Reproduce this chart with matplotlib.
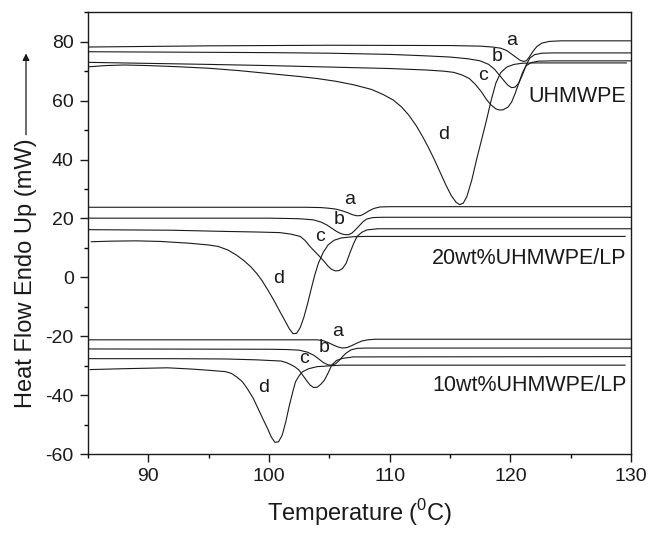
"""DSC heating curves of UHMWPE and UHMWPE/LP blends (curves a-d per group)."""

import matplotlib

matplotlib.use("Agg")
import matplotlib.pyplot as plt
from matplotlib.patches import FancyArrowPatch
from matplotlib.ticker import MultipleLocator

plt.rcParams["font.family"] = ["Liberation Sans", "DejaVu Sans"]
plt.rcParams["mathtext.fontset"] = "custom"
plt.rcParams["mathtext.rm"] = "Liberation Sans"
plt.rcParams["axes.unicode_minus"] = False

# ---- data (temperature in degC, heat flow in mW) ----
# UHMWPE
uh_a_t = [85, 95, 105, 115, 117.5, 118.5, 119.2, 119.7, 120.1, 120.5, 120.8, 121.1, 121.35, 121.6,
          121.9, 122.2, 122.6, 123.2, 124.2, 130]
uh_a_v = [78.2, 78.6, 78.8, 78.7, 78.5, 78.2, 77.8, 77.0, 75.8, 74.6, 73.7, 73.3, 73.6, 75.0,
          76.9, 78.4, 79.5, 80.1, 80.3, 80.3]
uh_b_t = [85, 95, 100, 105, 110, 113, 115, 116.5, 117.5, 118.2, 118.7, 119.1, 119.5, 119.8, 120.1,
          120.4, 120.7, 121.0, 121.3, 121.6, 122.0, 122.6, 123.5, 130]
uh_b_v = [76.6, 76.4, 76.3, 76.1, 75.7, 75.2, 74.8, 74.2, 73.5, 72.3, 70.6, 68.6, 66.6, 65.2, 64.4,
          64.6, 66.0, 68.8, 72.0, 74.4, 75.6, 76.1, 76.2, 76.2]
uh_c_t = [85, 95, 100, 105, 110, 113, 114.5, 115.3, 116.0, 116.6, 117.1, 117.6, 118.0, 118.4, 118.8,
          119.1, 119.4, 119.8, 120.1, 120.4, 120.7, 121.0, 121.3, 121.7, 122.3, 123.5, 130]
uh_c_v = [73.0, 72.3, 71.9, 71.4, 70.9, 70.4, 70.0, 69.6, 68.7, 67.5, 65.5, 63.0, 60.5, 58.5, 57.2,
          56.8, 56.9, 57.8, 59.5, 62.5, 66.0, 69.5, 71.8, 72.9, 73.4, 73.5, 73.5]
uh_d_t = [85.1, 86.5, 88, 90, 92.5, 95, 97.5, 100, 102.5, 104, 105.5, 107, 108.5, 109.5, 110.3,
          111.0, 111.6, 112.2, 112.7, 113.2, 113.7, 114.2, 114.7, 115.1, 115.5, 115.8, 116.1, 116.4,
          116.8, 117.2, 117.6, 118.0, 118.4, 118.8, 119.2, 119.7, 120.3, 121.0, 122, 129.6]
uh_d_v = [71.5, 71.9, 72.1, 71.9, 71.5, 71.0, 70.2, 69.2, 68.2, 67.5, 66.6, 65.4, 63.8, 62.0, 60.2,
          57.8, 55.0, 51.5, 48.0, 44.2, 40.0, 35.5, 31.0, 27.8, 25.5, 24.7, 25.2, 27.5,
          33.0, 40.0, 46.5, 53.0, 60.0, 66.0, 69.5, 71.4, 72.3, 72.7, 72.8, 72.8]

# 20wt% UHMWPE/LP
w20_a_t = [85, 103, 104.3, 104.9, 105.5, 106.0, 106.5, 106.9, 107.3, 107.6, 107.9, 108.3, 108.7,
           109.2, 110, 130]
w20_a_v = [23.8, 23.8, 23.7, 23.5, 23.2, 22.7, 22.0, 21.3, 20.9, 21.0, 21.6, 22.6, 23.4,
           23.9, 24.0, 24.0]
w20_b_t = [85, 100, 101.5, 102.5, 103.2, 103.7, 104.3, 104.8, 105.2, 105.6, 106.0, 106.3, 106.6,
           106.9, 107.2, 107.5, 107.8, 108.1, 108.6, 109.4, 130]
w20_b_v = [20.1, 20.1, 20.0, 19.9, 19.7, 19.5, 18.8, 17.8, 16.7, 15.6, 14.8, 14.5, 14.5,
           15.1, 16.3, 17.6, 18.9, 19.8, 20.3, 20.4, 20.4]
w20_c_t = [85, 92, 96.4, 99, 100.9, 101.8, 102.6, 103.0, 103.4, 103.8, 104.2, 104.6, 104.9, 105.2,
           105.5, 105.8, 106.1, 106.4, 106.7, 107.0, 107.3, 107.7, 108.1, 109, 130]
w20_c_v = [16.2, 16.0, 15.6, 15.4, 15.2, 14.7, 13.9, 12.5, 10.5, 8.8, 7.1, 5.3, 3.8, 2.7,
           2.2, 2.3, 3.0, 4.8, 8.2, 11.3, 13.9, 15.3, 16.1, 16.5, 16.5]
w20_d_t = [85.3, 87, 89, 91, 93.4, 95, 95.8, 96.6, 97.3, 97.9, 98.5, 99.0, 99.4, 99.9, 100.4,
           100.9, 101.3, 101.7, 102.0, 102.3, 102.6, 102.9, 103.2, 103.5, 103.8, 104.1, 104.5,
           104.9, 105.4, 106, 107, 108, 129.5]
w20_d_v = [12.1, 12.3, 12.4, 12.2, 11.6, 11.0, 10.5, 9.3, 7.6, 5.8, 3.6, 1.3, -0.9, -4.2, -7.7,
           -11.5, -14.5, -17.5, -19.1, -19.0, -17.0, -13.5, -9.0, -4.0, 0.8, 4.8, 8.5,
           11.0, 12.6, 13.4, 13.8, 13.9, 13.9]

# 10wt% UHMWPE/LP
w10_a_t = [85, 104, 104.5, 104.9, 105.3, 105.7, 106.1, 106.5, 106.9, 107.3, 107.7, 108.2, 108.8, 130]
w10_a_v = [-21.2, -21.2, -21.5, -22.1, -22.9, -23.6, -24.0, -23.8, -23.1, -22.3, -21.6, -21.2,
           -21.0, -21.0]
w10_b_t = [85, 100, 101.5, 102.5, 103.2, 103.7, 104.1, 104.5, 104.9, 105.2, 105.5, 105.8, 106.1,
           106.4, 106.8, 107.3, 108, 130]
w10_b_v = [-24.3, -24.4, -24.5, -24.7, -25.4, -26.4, -27.6, -28.9, -29.7, -29.8, -29.4, -28.3,
           -26.9, -25.7, -24.6, -24.1, -24.0, -24.0]
w10_c_t = [85, 92, 96.4, 99, 101, 101.5, 101.9, 102.2, 102.5, 102.8, 103.1, 103.4, 103.7, 104.0,
           104.3, 104.6, 104.9, 105.2, 105.6, 106.1, 107, 130]
w10_c_v = [-27.6, -27.6, -27.7, -28.0, -28.4, -29.0, -29.8, -30.5, -31.5, -33.2, -34.9, -36.5,
           -37.4, -37.3, -36.3, -34.9, -32.5, -29.8, -28.2, -27.5, -27.0, -26.9]
w10_d_t = [85.2, 88, 91.6, 93.5, 94.9, 96.4, 96.9, 97.3, 97.8, 98.2, 98.7, 99.1, 99.5, 99.9, 100.2,
           100.5, 100.8, 101.1, 101.4, 101.7, 102.0, 102.2, 102.5, 102.8, 103.3, 104.0, 106, 129.5]
w10_d_v = [-31.3, -31.0, -30.7, -31.1, -31.5, -32.0, -32.6, -33.7, -35.4, -37.7, -41.0, -44.5,
           -48.0, -51.4, -54.2, -56.0, -55.8, -53.6, -49.0, -43.4, -38.5, -35.5, -33.4, -32.0,
           -31.0, -30.3, -29.8, -29.8]

curve_letters = ["a", "b", "c", "d"]
group_names = ["UHMWPE", "20wt%UHMWPE/LP", "10wt%UHMWPE/LP"]

groups = [
    [(uh_a_t, uh_a_v), (uh_b_t, uh_b_v), (uh_c_t, uh_c_v), (uh_d_t, uh_d_v)],
    [(w20_a_t, w20_a_v), (w20_b_t, w20_b_v), (w20_c_t, w20_c_v), (w20_d_t, w20_d_v)],
    [(w10_a_t, w10_a_v), (w10_b_t, w10_b_v), (w10_c_t, w10_c_v), (w10_d_t, w10_d_v)],
]

# where the small a-d letters and group names sit (data coords)
letter_pos = [
    [(120.1, 80.5), (118.9, 75.0), (117.7, 68.5), (114.5, 48.4)],
    [(106.7, 26.4), (105.8, 19.5), (104.2, 13.9), (100.8, -0.3)],
    [(105.7, -18.5), (104.6, -23.8), (102.9, -27.5), (99.6, -37.5)],
]
group_pos = [(129.6, 61.5), (129.6, 6.3), (129.6, -36.6)]

INK = "#1a1a1a"


def main():
    fig = plt.figure(figsize=(6.5, 5.33), dpi=100)
    ax = fig.add_axes([0.135, 0.148, 0.836, 0.829])

    for curves, letters_xy, name, gxy in zip(groups, letter_pos, group_names, group_pos):
        for (t, v) in curves:
            ax.plot(t, v, color=INK, lw=0.8)
        for letter, (x, y) in zip(curve_letters, letters_xy):
            ax.text(x, y, letter, fontsize=14, ha="center", va="center", color=INK)
        ax.text(gxy[0], gxy[1], name, fontsize=15.5, ha="right", va="center", color=INK)

    ax.set_xlim(85, 130)
    ax.set_ylim(-60, 90)
    ax.xaxis.set_major_locator(MultipleLocator(10))
    ax.xaxis.set_minor_locator(MultipleLocator(5))
    ax.yaxis.set_major_locator(MultipleLocator(20))
    ax.yaxis.set_minor_locator(MultipleLocator(10))
    ax.tick_params(which="major", direction="out", length=5.5, width=1.0, labelsize=14,
                   pad=4.5, colors=INK)
    ax.tick_params(which="minor", direction="out", length=3, width=1.0)
    for sp in ax.spines.values():
        sp.set_linewidth(1.0)
        sp.set_color(INK)

    ax.set_xlabel(r"Temperature ($^{0}$C)", fontsize=17, labelpad=9, color=INK)

    # y label with the up arrow continuing from the end of the text
    fig.text(0.040, 0.488, "Heat Flow Endo Up (mW)", rotation=90, fontsize=17,
             ha="center", va="center", color=INK)
    fig.add_artist(FancyArrowPatch(
        (0.040, 0.742), (0.040, 0.905), transform=fig.transFigure,
        arrowstyle="-|>", mutation_scale=10, lw=0.9, color=INK))

    fig.savefig("out.png", dpi=100)
    plt.close(fig)


if __name__ == "__main__":
    main()
